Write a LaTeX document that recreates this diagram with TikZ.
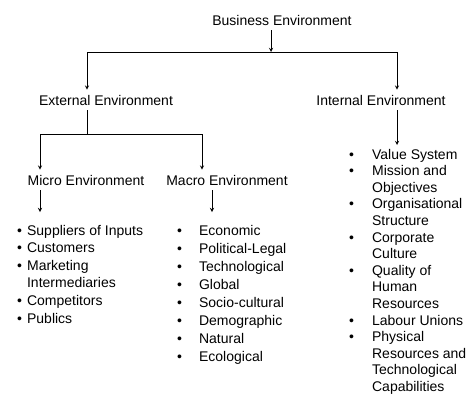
\documentclass[tikz,border=0pt]{standalone}
\usepackage{fontspec}
\setmainfont{Liberation Sans}
\usetikzlibrary{arrows}
\tikzstyle{arrow} = [line width=0.9bp,->,>=stealth]
\tikzstyle{line} = [line width=0.9bp]
\tikzstyle{head} = [inner sep=5bp,font=\fontsize{14bp}{17bp}\selectfont]
\tikzstyle{list} = [inner sep=0pt,anchor=base west]

\begin{document}
\begin{tikzpicture}[x=1bp,y=-1bp]
            \useasboundingbox (0,0) rectangle (466,398);
            % headings
            \node[head] (bus) at (282,20) {Business Environment};
            \node[head] (ext) at (106,100) {External Environment};
            \node[head] (int) at (381,100) {Internal Environment};
            \node[head] (micro) at (86,180) {Micro Environment};
            \node[head] (macro) at (227,180) {Macro Environment};
            % lists
            \node[list] (microlist) at (17,235) {\fontsize{14bp}{17.6bp}\selectfont
              \begin{tabular}[t]{@{}l@{\hspace{5bp}}l@{}}
              \textbullet & Suppliers of Inputs\\
              \textbullet & Customers\\
              \textbullet & Marketing\\
                          & Intermediaries\\
              \textbullet & Competitors\\
              \textbullet & Publics
              \end{tabular}};
            \node[list] (macrolist) at (177,235) {\fontsize{14bp}{18bp}\selectfont
              \begin{tabular}[t]{@{}l@{\hspace{17bp}}l@{}}
              \textbullet & Economic\\
              \textbullet & Political-Legal\\
              \textbullet & Technological\\
              \textbullet & Global\\
              \textbullet & Socio-cultural\\
              \textbullet & Demographic\\
              \textbullet & Natural\\
              \textbullet & Ecological
              \end{tabular}};
            \node[list] (intlist) at (349,159) {\fontsize{14bp}{16.6bp}\selectfont
              \begin{tabular}[t]{@{}l@{\hspace{18bp}}l@{}}
              \textbullet & Value System\\
              \textbullet & Mission and\\
                          & Objectives\\
              \textbullet & Organisational\\
                          & Structure\\
              \textbullet & Corporate\\
                          & Culture\\
              \textbullet & Quality of\\
                          & Human\\
                          & Resources\\
              \textbullet & Labour Unions\\
              \textbullet & Physical\\
                          & Resources and\\
                          & Technological\\
                          & Capabilities
              \end{tabular}};
            % junctions
            \coordinate (top) at (271,52);
            \coordinate (extj) at (87,52);
            \coordinate (intj) at (397,52);
            \coordinate (subj) at (87,134);
            \coordinate (microj) at (40,134);
            \coordinate (macroj) at (202,134);
            \coordinate (microtip) at (40,212);
            \coordinate (macrotip) at (212,212);
            \coordinate (inttip) at (397,145);
            % connectors
            \draw[arrow] (bus.south -| top) -- (top);
            \draw[line] (extj) -- (intj);
            \draw[arrow] (extj) -- (extj |- ext.north);
            \draw[arrow] (intj) -- (intj |- int.north);
            \draw[line] (ext.south -| subj) -- (subj);
            \draw[line] (microj) -- (macroj);
            \draw[arrow] (microj) -- (microj |- micro.north);
            \draw[arrow] (macroj) -- (macroj |- macro.north);
            \draw[arrow] (micro.south -| microtip) -- (microtip);
            \draw[arrow] (macro.south -| macrotip) -- (macrotip);
            \draw[arrow] (int.south -| inttip) -- (inttip);
        \end{tikzpicture}
\end{document}
